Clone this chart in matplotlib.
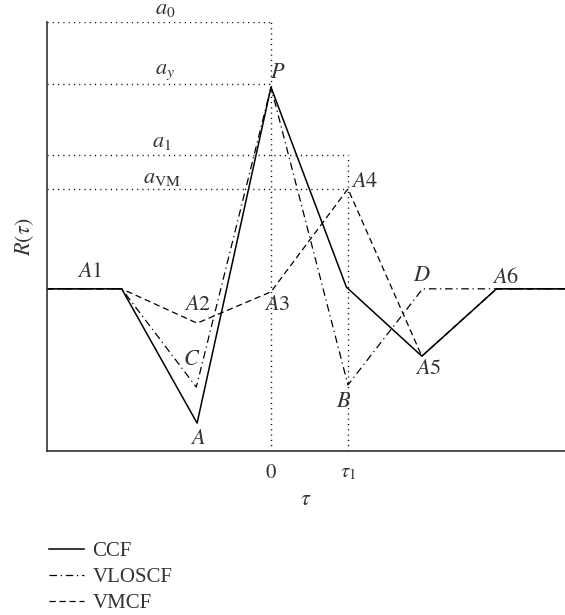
import matplotlib.pyplot as plt
import numpy as np

plt.rcParams['font.family'] = ['Liberation Serif', 'DejaVu Serif']
plt.rcParams['mathtext.fontset'] = 'stix'

TXT = '#333333'

# lag axis (tau_1 = 1) and normalised correlation levels (a0 = 1)
x_left, x_right = -2.91, 3.82
tau1 = 1.0
base = 0.378

a0 = 1.0
a_y = 0.855
a1 = 0.69
a_vm = 0.611

# CCF: A1 -> A -> P -> kink -> A5 -> A6
ccf_x = [x_left, -1.94, -0.96, 0.0, 0.98, 1.96, 2.93, x_right]
ccf_y = [base, base, 0.065, 0.848, 0.382, 0.221, base, base]

# VLOSCF: A1 -> C -> P -> B -> D
vlos_x = [x_left, -1.94, -0.97, 0.0, 1.0, 1.97, x_right]
vlos_y = [base, base, 0.149, 0.848, 0.154, base, base]

# VMCF: A1 -> A2 -> A3 -> A4 -> A5 -> A6
vm_x = [x_left, -1.94, -0.96, 0.0, 1.0, 1.96, 2.93, x_right]
vm_y = [base, base, 0.298, 0.371, a_vm, 0.221, base, base]

fig = plt.figure(figsize=(5.65, 6.15), dpi=100)
ax = fig.add_axes([47 / 565, 1 - 451 / 615, 1 - 47 / 565, (451 - 22) / 615])

dot = (0, (0.8, 3.0))
ax.plot([x_left, 0], [a0, a0], color='k', lw=1, ls=dot)
ax.plot([x_left, 0], [a_y, a_y], color='k', lw=1, ls=dot)
ax.plot([x_left, tau1], [a1, a1], color='k', lw=1, ls=dot)
ax.plot([x_left, tau1], [a_vm, a_vm], color='k', lw=1, ls=dot)
ax.plot([0, 0], [0, a0], color='k', lw=1, ls=dot)
ax.plot([tau1, tau1], [0, a1], color='k', lw=1, ls=dot)

l1, = ax.plot(ccf_x, ccf_y, color='k', lw=1.1, ls='-', label='CCF')
l2, = ax.plot(vlos_x, vlos_y, color='k', lw=0.9, ls=(0, (6, 3, 1, 3)), label='VLOSCF')
l3, = ax.plot(vm_x, vm_y, color='k', lw=0.9, ls=(0, (5, 3)), label='VMCF')

ax.set_xlim(x_left, x_right)
ax.set_ylim(0, 1)
for s in ['top', 'right']:
    ax.spines[s].set_visible(False)
for s in ['left', 'bottom']:
    ax.spines[s].set_color('#333333')
    ax.spines[s].set_linewidth(1.2)

ax.set_xticks([0, tau1])
ax.set_xticklabels(['$0$', r'$\tau_1$'])
ax.set_yticks([])
ax.tick_params(axis='x', length=0, pad=9, labelsize=15, labelcolor=TXT)
ax.set_xlabel(r'$\tau$', fontsize=16, color=TXT, labelpad=6)
ax.set_ylabel(r'$R(\tau)$', fontsize=16, color=TXT, labelpad=8)

fs = 16
levels = [('$a_0$', -1.38, 1.028), ('$a_y$', -1.38, 0.883),
          ('$a_1$', -1.42, 0.720), (r'$a_{\mathrm{VM}}$', -1.42, 0.636)]
for s, x, y in levels:
    ax.text(x, y, s, ha='center', va='center', fontsize=fs, color=TXT, clip_on=False)

pts = [
    ('$P$', 0.09, 0.881),
    ('$A1$', -2.35, 0.415),
    ('$A2$', -0.95, 0.340),
    ('$A3$', 0.08, 0.340),
    ('$C$', -1.03, 0.212),
    ('$A$', -0.95, 0.026),
    ('$A4$', 1.22, 0.625),
    ('$B$', 0.94, 0.114),
    ('$D$', 1.96, 0.406),
    ('$A6$', 3.05, 0.403),
    ('$A5$', 2.04, 0.189),
]
for s, x, y in pts:
    ax.text(x, y, s, ha='center', va='center', fontsize=fs, color=TXT)

fig.legend(handles=[l1, l2, l3], loc='upper left',
           bbox_to_anchor=(30 / 565, 1 - 523 / 615), frameon=False,
           fontsize=15, labelcolor=TXT, handlelength=1.7,
           handletextpad=0.4, labelspacing=0.3)

fig.savefig('out.png', dpi=100)
